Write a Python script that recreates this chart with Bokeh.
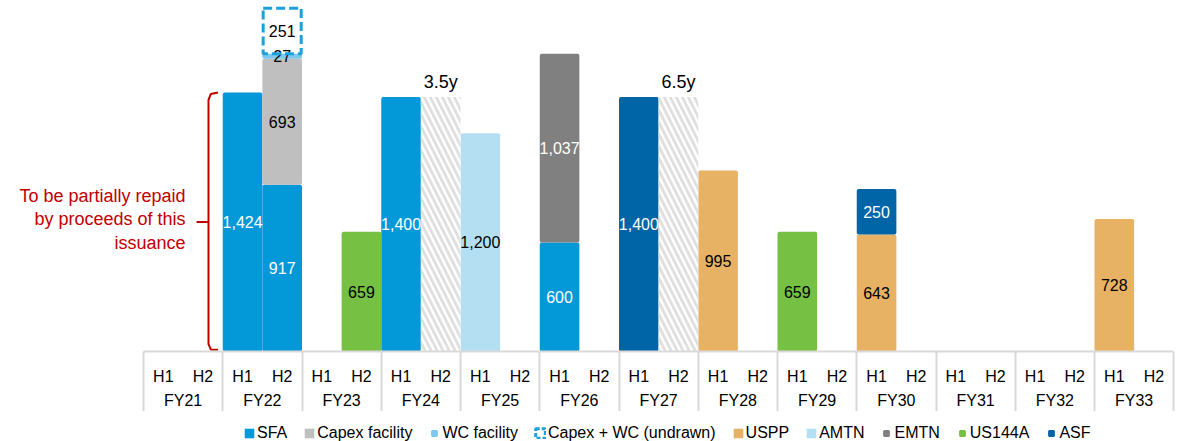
from collections import defaultdict

from bokeh.core.properties import value
from bokeh.embed import file_html
from bokeh.layouts import column
from bokeh.models import FixedTicker, Legend, LegendItem, LinearAxis, Range1d
from bokeh.plotting import figure
from bokeh.resources import INLINE

# ---- categories -----------------------------------------------------------
fiscal_years = ["FY21", "FY22", "FY23", "FY24", "FY25", "FY26", "FY27",
                "FY28", "FY29", "FY30", "FY31", "FY32", "FY33"]
halves = ["H1", "H2"]

# ---- debt maturities (A$m) by half-year --------------------------------------
sfa_slots = [("FY22", "H1"), ("FY22", "H2"), ("FY24", "H1"), ("FY26", "H1")]
sfa_values = [1424, 917, 1400, 600]

capex_slots = [("FY22", "H2")]
capex_values = [693]

wc_slots = [("FY22", "H2")]
wc_values = [27]

undrawn_slots = [("FY22", "H2")]
undrawn_values = [251]

uspp_slots = [("FY28", "H1"), ("FY30", "H1"), ("FY33", "H1")]
uspp_values = [995, 643, 728]

amtn_slots = [("FY25", "H1")]
amtn_values = [1200]

emtn_slots = [("FY26", "H1")]
emtn_values = [1037]

us144a_slots = [("FY23", "H2"), ("FY29", "H1")]
us144a_values = [659, 659]

asf_slots = [("FY27", "H1"), ("FY30", "H1")]
asf_values = [1400, 250]

# tenor extensions shown as hatched bars
ext_slots = [("FY24", "H2"), ("FY27", "H2")]
ext_values = [1400, 1400]
ext_labels = ["3.5y", "6.5y"]

FONT = value("Liberation Sans")
RED = "#C00000"
GREY_LINE = "#D9D9D9"
UNDRAWN_BLUE = "#1BA0DD"


def slot_x(slot):
    fy, half = slot
    return fiscal_years.index(fy) * 2 + halves.index(half) + 0.5


n_slots = len(fiscal_years) * len(halves)
slot_px = 39.625          # pixel width of one half-year slot
left_px = 143             # where the category table starts
width_px = 1177
axis_px = 60              # height of the two label rows under the bars

p = figure(width=width_px, height=351 + axis_px,
           x_range=Range1d(-left_px / slot_px, (width_px - left_px) / slot_px),
           y_range=Range1d(0, 1930),
           x_axis_location=None, y_axis_location=None,
           toolbar_location=None, output_backend="svg",
           min_border=0, min_border_bottom=axis_px, outline_line_color=None,
           background_fill_color="white", border_fill_color="white")
p.grid.visible = False

# ---- stacked bars -------------------------------------------------------------
series = [
    ("SFA", sfa_slots, sfa_values, "#0398D8", "white"),
    ("Capex facility", capex_slots, capex_values, "#BFBFBF", "black"),
    ("WC facility", wc_slots, wc_values, "#7DC8EC", "black"),
    ("Capex + WC (undrawn)", undrawn_slots, undrawn_values, None, "black"),
    ("USPP", uspp_slots, uspp_values, "#E8B264", "black"),
    ("AMTN", amtn_slots, amtn_values, "#B4DFF2", "black"),
    ("EMTN", emtn_slots, emtn_values, "#808080", "white"),
    ("US144A", us144a_slots, us144a_values, "#76C043", "black"),
    ("ASF", asf_slots, asf_values, "#0065A6", "white"),
]
series_color = {name: color for name, _, _, color, _ in series}

stack_base = defaultdict(float)
for name, slots, vals, color, text_color in series:
    xs = [slot_x(s) for s in slots]
    bottoms = [stack_base[s] for s in slots]
    tops = [b + v for b, v in zip(bottoms, vals)]
    for s, t in zip(slots, tops):
        stack_base[s] = t
    if color is None:
        p.vbar(x=xs, bottom=bottoms, top=tops, width=0.96,
               fill_color=None, line_color=UNDRAWN_BLUE, line_width=3,
               line_dash="9 4")
    else:
        p.vbar(x=xs, bottom=bottoms, top=tops, width=1.0,
               fill_color=color, line_color=None, border_radius=2)
    mids = [(b + t) / 2 for b, t in zip(bottoms, tops)]
    p.text(x=xs, y=mids, text=[f"{v:,}" for v in vals],
           text_align="center", text_baseline="middle",
           text_font=FONT, text_font_size="16px", text_color=text_color)

# ---- hatched extension bars and tenor labels -------------------------------------
ext_x = [slot_x(s) for s in ext_slots]
p.vbar(x=ext_x, bottom=0, top=ext_values, width=1.0,
       fill_color="white", line_color=None,
       hatch_pattern="left_diagonal_line", hatch_color="#E0E0E0",
       hatch_weight=3, hatch_scale=12)
p.text(x=ext_x, y=ext_values, text=ext_labels,
       text_align="center", text_baseline="alphabetic", y_offset=-15,
       text_font=FONT, text_font_size="18px", text_color="black")

# ---- bracket around the SFA tranche to be refinanced ------------------------------
brace_top = sfa_values[0]
brace_mid = brace_top / 2
brace_pad = 10
bx = 1.64          # spine of the bracket, in slot units
p.line(x=[bx + 0.24, bx + 0.06, bx, bx, bx + 0.06, bx + 0.24],
       y=[brace_top, brace_top - 8, brace_top - 40,
          brace_pad + 30, brace_pad, brace_pad],
       line_color=RED, line_width=2)
p.line(x=[bx - 0.30, bx], y=[brace_mid, brace_mid], line_color=RED, line_width=2)
p.text(x=[1.06] * 3, y=[brace_mid] * 3,
       text=["To be partially repaid", "by proceeds of this", "issuance"],
       y_offset=[-26.5, -3, 20.5],
       text_align="right", text_baseline="middle",
       text_font=FONT, text_font_size="18px", text_color=RED)

# ---- two-row category axis: half-years above fiscal years -------------------------
# The fiscal-year dividers are the minor ticks of the first row, run down
# through both rows; a negative standoff pulls the labels back up.
divider_len = 61
half_ticks = [i + 0.5 for i in range(n_slots)]
half_axis = LinearAxis(
    ticker=FixedTicker(ticks=half_ticks, minor_ticks=list(range(0, n_slots + 1, 2))),
    major_label_overrides={t: halves[i % 2] for i, t in enumerate(half_ticks)},
    bounds=(0, n_slots),
    axis_line_color=GREY_LINE, axis_line_width=2,
    major_tick_line_color=None, major_tick_in=0, major_tick_out=0,
    minor_tick_line_color=GREY_LINE, minor_tick_line_width=2,
    minor_tick_in=0, minor_tick_out=divider_len,
    major_label_standoff=16 - divider_len,
    major_label_text_font="Liberation Sans", major_label_text_font_size="16px",
    major_label_text_color="black")
p.add_layout(half_axis, "below")

fy_ticks = [2 * i + 1 for i in range(len(fiscal_years))]
fy_axis = LinearAxis(
    ticker=FixedTicker(ticks=fy_ticks, minor_ticks=[]),
    major_label_overrides={t: fy for t, fy in zip(fy_ticks, fiscal_years)},
    bounds=(0, n_slots),
    axis_line_color=None,
    major_tick_line_color=None, major_tick_in=0, major_tick_out=0,
    minor_tick_line_color=None, minor_tick_in=0, minor_tick_out=0,
    major_label_standoff=4,
    major_label_text_font="Liberation Sans", major_label_text_font_size="16px",
    major_label_text_color="black")
p.add_layout(fy_axis, "below")

# ---- legend strip underneath ------------------------------------------------------
key = figure(width=width_px, height=441 - 351 - axis_px,
             x_range=Range1d(0, 1), y_range=Range1d(0, 1),
             x_axis_location=None, y_axis_location=None,
             toolbar_location=None, output_backend="svg",
             min_border=0, outline_line_color=None,
             background_fill_color="white", border_fill_color="white")
key.grid.visible = False

# swatch renderers hold a single empty (NaN) point: nothing is plotted,
# only their legend entries are drawn
NA = [float("nan")]


def big_swatch(name):
    return key.vbar(x=NA, top=NA, width=1, fill_color=series_color[name], line_color=None)


def small_swatch(name):
    c = series_color[name]
    return key.scatter(x=NA, y=NA, marker="square", size=6,
                       fill_color=c, line_color=c, line_width=2)


undrawn_swatch = key.vbar(x=NA, top=NA, width=1, fill_color=None,
                          line_color=UNDRAWN_BLUE, line_width=3, line_dash="4 2")

legend_items = [
    LegendItem(label="SFA", renderers=[big_swatch("SFA")]),
    LegendItem(label="Capex facility", renderers=[big_swatch("Capex facility")]),
    LegendItem(label="WC facility", renderers=[small_swatch("WC facility")]),
    LegendItem(label="Capex + WC (undrawn)", renderers=[undrawn_swatch]),
    LegendItem(label="USPP", renderers=[big_swatch("USPP")]),
    LegendItem(label="AMTN", renderers=[big_swatch("AMTN")]),
    LegendItem(label="EMTN", renderers=[small_swatch("EMTN")]),
    LegendItem(label="US144A", renderers=[small_swatch("US144A")]),
    LegendItem(label="ASF", renderers=[small_swatch("ASF")]),
]
legend = Legend(items=legend_items, orientation="horizontal",
                location=(243, -1), margin=0, padding=0, spacing=16,
                glyph_width=12, glyph_height=12, label_standoff=2,
                label_text_font="Liberation Sans", label_text_font_size="16px",
                label_text_color="black",
                border_line_color=None, background_fill_alpha=0)
key.add_layout(legend, "center")

open("out.html", "w").write(file_html(column(p, key, spacing=0), INLINE))
